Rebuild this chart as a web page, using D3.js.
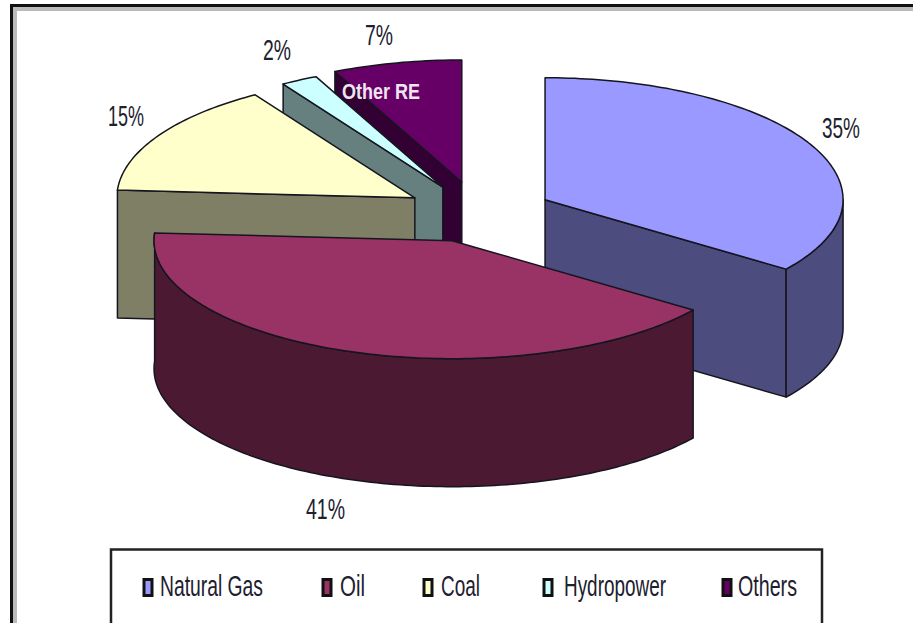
<!DOCTYPE html>
<html>
<head>
<meta charset="utf-8">
<script src="https://cdn.jsdelivr.net/npm/d3@7"></script>
<style>
html,body{margin:0;padding:0;background:#fff}
svg{display:block}
text{font-family:"Liberation Sans",Arial,sans-serif;fill:#20202e}
</style>
</head>
<body>
<svg id="chart" width="913" height="623"></svg>
<script>
// Energy mix shares, percent
const categories = ["Natural Gas", "Oil", "Coal", "Hydropower", "Others"];
const shares = [35, 41, 15, 2, 7];
const pull = [0.245, 0.277, 0.254, 0.259, 0.28];

// Excel-style top and wall colours per slice
const topColors = ["#9999ff", "#993366", "#ffffcc", "#ccffff", "#660066"];
const wallColors = ["#4c4c7f", "#4c1933", "#7f7f66", "#667f7f", "#330033"];

// Value label placement: left x, baseline y, width
const labelBoxes = [[822, 138, 38], [306, 519, 39], [108, 126, 36], [263, 60, 28], [365, 45, 28]];
// Legend placement: swatch left, text left, text width
const legendRows = [[144, 160, 103], [323, 340, 25], [424, 441, 39], [544, 564, 102], [723, 738, 59]];

const svg = d3.select("#chart");
const centre = {x: 480, y: 212};
const rx = 298, depth = 128, pullRy = 110;

// Unit circle to page offsets; the near half is slightly flatter than the far half
const px = d3.scaleLinear().domain([-1, 1]).range([-rx, rx]);
const py = d3.scaleLinear().domain([-1, 0, 1]).range([-122, 0, 118]);

const pie = d3.pie().sort(null).startAngle(0).endAngle(2 * Math.PI)(shares);
const slices = pie.map((d, i) => {
  const mid = (d.startAngle + d.endAngle) / 2;
  return {
    i, a0: d.startAngle, a1: d.endAngle,
    cx: centre.x + pull[i] * rx * Math.sin(mid),
    cy: centre.y - pull[i] * pullRy * Math.cos(mid)
  };
});

const rim = (s, a) => [s.cx + px(Math.sin(a)), s.cy + py(-Math.cos(a))];
const line = d3.line();
const arcPoints = (s, a0, a1) => {
  const n = Math.max(2, Math.ceil((a1 - a0) / 0.02));
  return d3.range(n + 1).map(k => rim(s, a0 + (a1 - a0) * k / n));
};
const drop = p => [p[0], p[1] + depth];
const outline = "#15151f";

const g = svg.append("g");

function face(points, fill) {
  g.append("path").attr("d", line(points) + "Z")
    .attr("fill", fill).attr("stroke", outline)
    .attr("stroke-width", 1.5).attr("stroke-linejoin", "round");
}

// Painted back to front so the nearer slices cover the farther ones
[4, 3, 2, 0, 1].forEach(i => {
  const s = slices[i];
  const apex = [s.cx, s.cy];
  const wall = wallColors[i];
  if (s.a0 > Math.PI) {
    const p = rim(s, s.a0);
    face([apex, p, drop(p), drop(apex)], wall);
  }
  if (s.a1 < Math.PI) {
    const p = rim(s, s.a1);
    face([apex, p, drop(p), drop(apex)], wall);
  }
  if (s.a0 < 1.5 * Math.PI) {
    const edge = arcPoints(s, Math.max(s.a0, Math.PI / 2), s.a1);
    face(edge.concat(edge.map(drop).reverse()), wall);
  }
  face([apex].concat(arcPoints(s, s.a0, s.a1)), topColors[i]);
});

// Percentage labels, drawn narrow like the source typeface
const fitted = (sel, size) => sel.attr("font-size", size)
  .attr("lengthAdjust", "spacingAndGlyphs");

shares.forEach((v, i) => {
  const [x, y, w] = labelBoxes[i];
  svg.append("text").attr("x", x).attr("y", y)
    .attr("textLength", w).call(fitted, 29).text(v + "%");
});

svg.append("text").attr("x", 342).attr("y", 99).attr("textLength", 78)
  .attr("font-weight", "bold").style("fill", "#f0e4f0")
  .call(fitted, 22).text("Other RE");

// Page frame: dark rule with a grey shadow, open at right and bottom
const frame = svg.append("g").attr("fill", "none");
frame.append("path").attr("d", "M15 623V9H913").attr("stroke", "#bbb").attr("stroke-width", 4);
frame.append("path").attr("d", "M11.5 623V5.5H913").attr("stroke", "#111").attr("stroke-width", 3);

// Legend box, cut off by the bottom edge
svg.append("path").attr("d", "M111 623V549.5H822V623")
  .attr("fill", "#fff").attr("stroke", "#222").attr("stroke-width", 2.5);

categories.forEach((c, i) => {
  const [sx, tx, w] = legendRows[i];
  svg.append("rect").attr("x", sx).attr("y", 579.5).attr("width", 8).attr("height", 16)
    .attr("fill", topColors[i]).attr("stroke", "#111").attr("stroke-width", 3);
  svg.append("text").attr("x", tx).attr("y", 596)
    .attr("textLength", w).call(fitted, 30).text(c);
});
</script>
</body>
</html>
